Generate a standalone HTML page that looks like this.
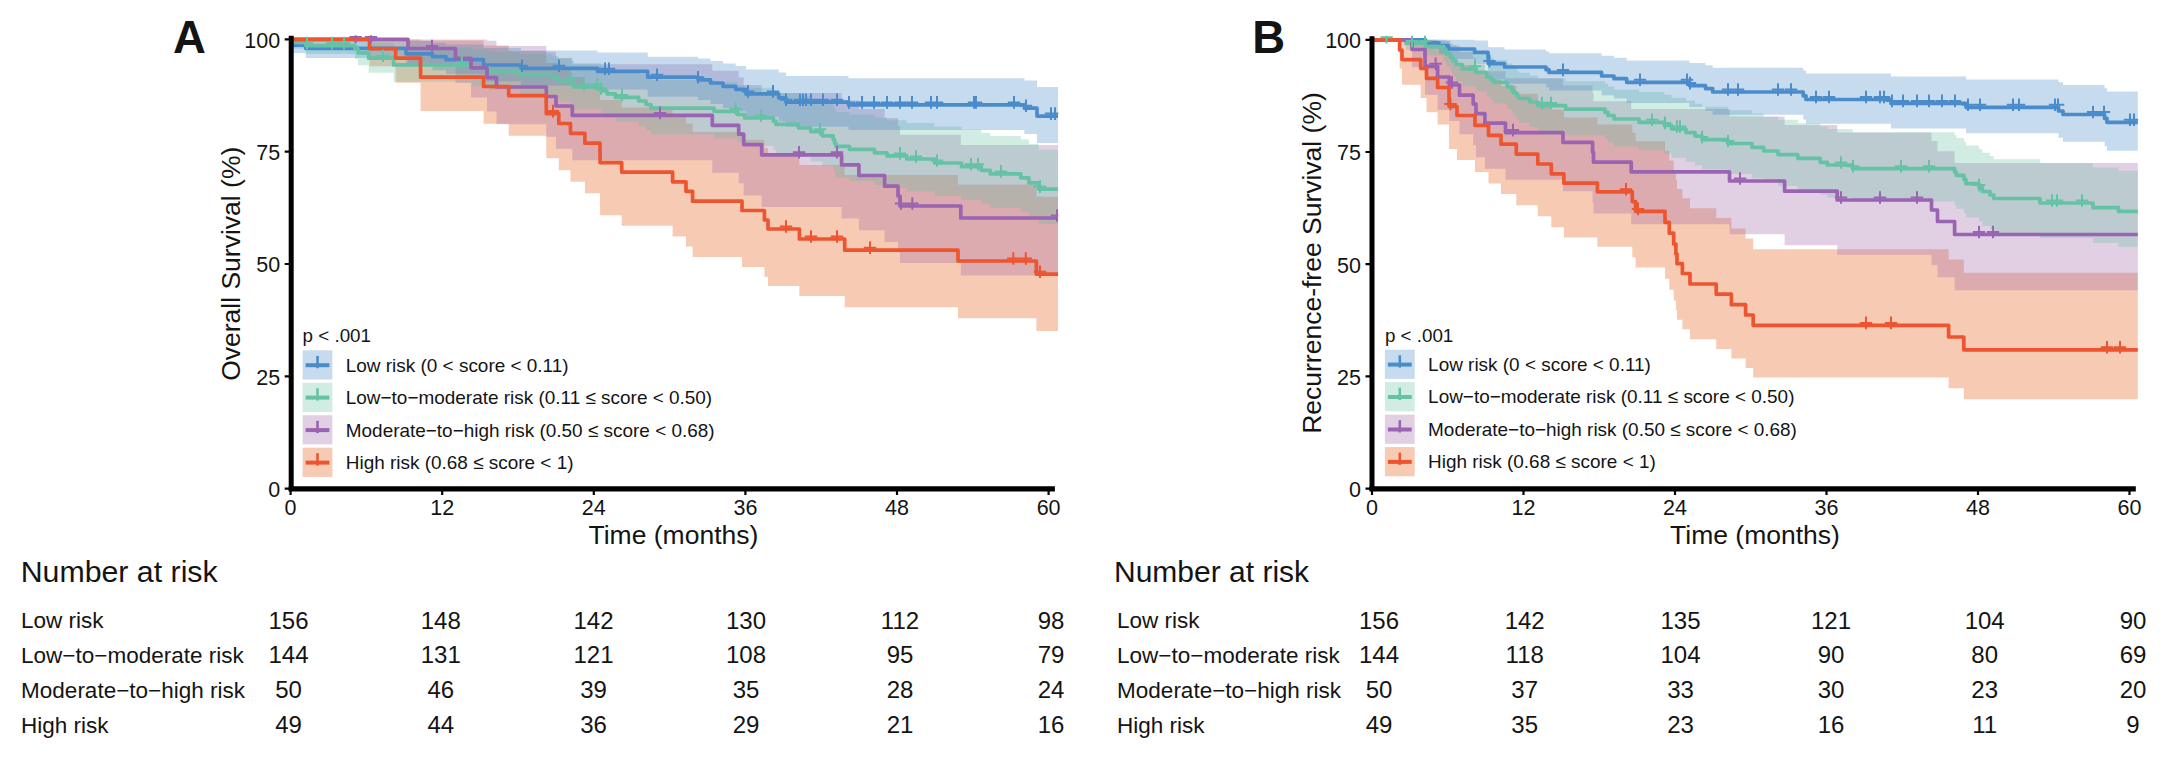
<!DOCTYPE html>
<html><head><meta charset="utf-8"><title>Survival curves</title>
<style>
html,body{margin:0;padding:0;background:#fff;}
body{width:2178px;height:780px;overflow:hidden;font-family:"Liberation Sans", sans-serif;}
svg{display:block;}
svg text{font-family:"Liberation Sans", sans-serif;fill:#141414;}
</style></head><body>
<svg width="2178" height="780" viewBox="0 0 2178 780">
<rect width="2178" height="780" fill="#fff"/>
<g id="panelA">
<clipPath id="clipA"><rect x="287.6" y="35.3" width="770.7" height="470"/></clipPath>
<g clip-path="url(#clipA)">
<path d="M290.6,39.4L369.5,39.4L369.5,39.4L395.6,39.4L395.6,39.4L420.5,39.4L420.5,39.4L420.6,39.4L420.6,40.4L483.6,40.4L483.6,45.5L508.7,45.5L508.7,51.0L546.2,51.0L546.2,56.7L546.3,56.7L546.3,62.9L558.8,62.9L558.8,69.9L570.5,69.9L570.5,77.1L584.9,77.1L584.9,84.6L600.0,84.6L600.0,92.1L600.1,92.1L600.1,99.9L621.7,99.9L621.7,107.6L672.6,107.6L672.6,115.4L686.0,115.4L686.0,123.4L692.6,123.4L692.6,131.9L742.0,131.9L742.0,139.7L764.4,139.7L764.4,148.0L768.0,148.0L768.0,156.1L799.4,156.1L799.4,165.0L844.7,165.0L844.7,175.1L958.0,175.1L958.0,184.6L1036.4,184.6L1036.4,196.7L1058.0,196.7L1058.0,331.1L1036.4,331.1L1036.4,318.2L958.0,318.2L958.0,307.3L844.7,307.3L844.7,296.1L799.4,296.1L799.4,285.9L768.0,285.9L768.0,276.8L764.4,276.8L764.4,266.9L742.0,266.9L742.0,257.1L692.6,257.1L692.6,246.6L686.0,246.6L686.0,236.4L672.6,236.4L672.6,225.7L621.7,225.7L621.7,215.2L600.1,215.2L600.1,204.4L600.0,204.4L600.0,193.3L584.9,193.3L584.9,181.8L570.5,181.8L570.5,170.2L558.8,170.2L558.8,158.3L546.3,158.3L546.3,147.2L546.2,147.2L546.2,135.7L508.7,135.7L508.7,123.7L483.6,123.7L483.6,111.0L420.6,111.0L420.6,97.3L420.5,97.3L420.5,82.7L395.6,82.7L395.6,66.2L369.5,66.2L369.5,39.4L290.6,39.4Z" fill="#e44e05" fill-opacity="0.3" stroke="none"/>
<path d="M290.6,39.4L408.0,39.4L408.0,39.4L455.5,39.4L455.5,39.4L471.0,39.4L471.0,39.4L487.0,39.4L487.0,40.7L496.5,40.7L496.5,46.0L546.3,46.0L546.3,51.7L556.0,51.7L556.0,57.9L572.3,57.9L572.3,64.3L712.3,64.3L712.3,70.7L738.7,70.7L738.7,77.2L743.7,77.2L743.7,85.1L761.7,85.1L761.7,93.0L841.6,93.0L841.6,100.6L858.9,100.6L858.9,109.1L884.6,109.1L884.6,117.9L898.0,117.9L898.0,126.2L900.0,126.2L900.0,134.8L960.8,134.8L960.8,145.0L1058.0,145.0L1058.0,275.5L960.8,275.5L960.8,262.9L900.0,262.9L900.0,252.4L898.0,252.4L898.0,241.9L884.6,241.9L884.6,230.3L858.9,230.3L858.9,218.6L841.6,218.6L841.6,207.0L761.7,207.0L761.7,195.4L743.7,195.4L743.7,183.3L738.7,183.3L738.7,172.8L712.3,172.8L712.3,160.3L572.3,160.3L572.3,148.7L556.0,148.7L556.0,136.7L546.3,136.7L546.3,124.2L496.5,124.2L496.5,111.5L487.0,111.5L487.0,97.5L471.0,97.5L471.0,82.9L455.5,82.9L455.5,65.9L408.0,65.9L408.0,39.4L290.6,39.4Z" fill="#9a62a6" fill-opacity="0.3" stroke="none"/>
<path d="M290.6,39.4L291.0,39.4L291.0,39.4L306.0,39.4L306.0,39.4L355.0,39.4L355.0,39.4L358.0,39.4L358.0,40.1L368.6,40.1L368.6,43.1L393.6,43.1L393.6,47.4L472.0,47.4L472.0,49.5L489.2,49.5L489.2,51.7L520.0,51.7L520.0,54.0L552.7,54.0L552.7,56.1L558.5,56.1L558.5,58.6L571.4,58.6L571.4,60.9L574.0,60.9L574.0,63.2L601.0,63.2L601.0,66.2L607.0,66.2L607.0,68.5L615.4,68.5L615.4,71.2L638.7,71.2L638.7,74.1L646.0,74.1L646.0,76.9L651.0,76.9L651.0,79.9L714.0,79.9L714.0,82.3L737.5,82.3L737.5,84.9L744.6,84.9L744.6,87.8L773.4,87.8L773.4,90.4L776.0,90.4L776.0,93.1L798.5,93.1L798.5,96.1L810.8,96.1L810.8,99.3L822.4,99.3L822.4,102.8L833.2,102.8L833.2,105.9L834.6,105.9L834.6,109.3L836.0,109.3L836.0,112.0L849.4,112.0L849.4,114.5L874.5,114.5L874.5,117.6L887.0,117.6L887.0,120.2L906.8,120.2L906.8,122.9L934.6,122.9L934.6,126.4L961.6,126.4L961.6,129.6L981.3,129.6L981.3,132.8L990.3,132.8L990.3,136.0L1020.8,136.0L1020.8,139.5L1028.9,139.5L1028.9,144.0L1038.7,144.0L1038.7,149.8L1058.0,149.8L1058.0,223.9L1038.7,223.9L1038.7,217.2L1028.9,217.2L1028.9,211.9L1020.8,211.9L1020.8,207.7L990.3,207.7L990.3,203.8L981.3,203.8L981.3,199.9L961.6,199.9L961.6,195.9L934.6,195.9L934.6,191.5L906.8,191.5L906.8,188.1L887.0,188.1L887.0,184.9L874.5,184.9L874.5,180.9L849.4,180.9L849.4,177.7L836.0,177.7L836.0,174.3L834.6,174.3L834.6,170.1L833.2,170.1L833.2,166.0L822.4,166.0L822.4,161.4L810.8,161.4L810.8,157.3L798.5,157.3L798.5,153.2L776.0,153.2L776.0,149.6L773.4,149.6L773.4,145.9L744.6,145.9L744.6,141.9L737.5,141.9L737.5,138.2L714.0,138.2L714.0,134.5L651.0,134.5L651.0,130.3L646.0,130.3L646.0,126.2L638.7,126.2L638.7,121.9L615.4,121.9L615.4,117.8L607.0,117.8L607.0,114.3L601.0,114.3L601.0,109.5L574.0,109.5L574.0,105.9L571.4,105.9L571.4,102.2L558.5,102.2L558.5,98.0L552.7,98.0L552.7,94.4L520.0,94.4L520.0,90.1L489.2,90.1L489.2,86.1L472.0,86.1L472.0,81.7L393.6,81.7L393.6,72.7L368.6,72.7L368.6,65.3L358.0,65.3L358.0,59.1L355.0,59.1L355.0,54.1L306.0,54.1L306.0,48.5L291.0,48.5L291.0,39.4L290.6,39.4Z" fill="#62c0a2" fill-opacity="0.3" stroke="none"/>
<path d="M290.6,39.4L291.0,39.4L291.0,39.4L305.6,39.4L305.6,39.4L406.0,39.4L406.0,41.1L432.5,41.1L432.5,42.8L446.0,42.8L446.0,44.6L483.5,44.6L483.5,48.1L521.0,48.1L521.0,50.4L597.4,50.4L597.4,52.4L647.7,52.4L647.7,56.7L698.0,56.7L698.0,58.5L710.5,58.5L710.5,60.9L723.0,60.9L723.0,63.5L735.7,63.5L735.7,65.9L746.0,65.9L746.0,69.4L778.7,69.4L778.7,72.5L786.0,72.5L786.0,76.1L848.5,76.1L848.5,78.2L1024.4,78.2L1024.4,80.6L1037.0,80.6L1037.0,87.1L1058.0,87.1L1058.0,143.0L1037.0,143.0L1037.0,134.0L1024.4,134.0L1024.4,129.9L848.5,129.9L848.5,126.7L786.0,126.7L786.0,121.6L778.7,121.6L778.7,116.9L746.0,116.9L746.0,111.6L735.7,111.6L735.7,107.9L723.0,107.9L723.0,103.9L710.5,103.9L710.5,100.0L698.0,100.0L698.0,96.8L647.7,96.8L647.7,89.4L597.4,89.4L597.4,85.5L521.0,85.5L521.0,81.2L483.5,81.2L483.5,74.1L446.0,74.1L446.0,70.2L432.5,70.2L432.5,66.1L406.0,66.1L406.0,58.0L305.6,58.0L305.6,53.1L291.0,53.1L291.0,39.4L290.6,39.4Z" fill="#4688c8" fill-opacity="0.3" stroke="none"/>
<path d="M290.6,39.4H291.0V45.2H305.6V48.3H406.0V53.8H432.5V56.7H446.0V59.6H483.5V65.0H521.0V68.3H597.4V71.3H647.7V77.2H698.0V79.8H710.5V83.0H723.0V86.3H735.7V89.4H746.0V93.9H778.7V97.8H786.0V102.2H848.5V104.9H1024.4V108.2H1037.0V116.1H1058.0" fill="none" stroke="#4a8ccb" stroke-width="3.7" stroke-linejoin="round"/>
<path d="M290.6,39.4H291.0V42.5H306.0V45.6H355.0V48.7H358.0V52.9H368.6V58.2H393.6V64.9H472.0V68.2H489.2V71.3H520.0V74.7H552.7V77.6H558.5V81.0H571.4V84.0H574.0V87.0H601.0V91.0H607.0V93.9H615.4V97.4H638.7V101.0H646.0V104.5H651.0V108.2H714.0V111.3H737.5V114.5H744.6V118.0H773.4V121.2H776.0V124.4H798.5V128.0H810.8V131.7H822.4V135.8H833.2V139.5H834.6V143.3H836.0V146.4H849.4V149.3H874.5V152.9H887.0V155.9H906.8V159.0H934.6V163.0H961.6V166.7H981.3V170.3H990.3V173.9H1020.8V177.8H1028.9V182.8H1038.7V189.1H1058.0" fill="none" stroke="#66c2a5" stroke-width="3.7" stroke-linejoin="round"/>
<path d="M290.6,39.4H408.0V48.5H455.5V58.3H471.0V67.8H487.0V77.6H496.5V87.0H546.3V96.5H556.0V106.0H572.3V115.4H712.3V125.3H738.7V134.2H743.7V144.6H761.7V154.8H841.6V164.9H858.9V175.5H884.6V186.2H898.0V196.0H900.0V206.0H960.8V218.0H1058.0" fill="none" stroke="#9a64b2" stroke-width="3.7" stroke-linejoin="round"/>
<path d="M290.6,39.4H369.5V48.6H395.6V58.1H420.5V67.6H420.6V77.2H483.6V86.5H508.7V95.6H546.2V104.6H546.3V113.6H558.8V123.5H570.5V133.3H584.9V143.2H600.0V152.9H600.1V162.6H621.7V172.1H672.6V181.8H686.0V191.3H692.6V201.2H742.0V210.5H764.4V220.0H768.0V229.0H799.4V239.0H844.7V250.2H958.0V261.0H1036.4V274.2H1058.0" fill="none" stroke="#ec5530" stroke-width="3.7" stroke-linejoin="round"/>
<path d="M522.0,59.5V72.1M515.8,65.8H528.2M559.0,59.5V72.1M552.8,65.8H565.2M605.0,62.5V75.1M598.8,68.8H611.2M609.0,62.5V75.1M602.8,68.8H615.2M657.0,68.4V81.0M650.8,74.7H663.2M698.0,71.0V83.6M691.8,77.3H704.2M748.0,85.1V97.7M741.8,91.4H754.2M773.0,85.1V97.7M766.8,91.4H779.2M786.0,93.4V106.0M779.8,99.7H792.2M800.0,93.4V106.0M793.8,99.7H806.2M803.0,93.4V106.0M796.8,99.7H809.2M806.0,93.4V106.0M799.8,99.7H812.2M811.0,93.4V106.0M804.8,99.7H817.2M823.0,93.4V106.0M816.8,99.7H829.2M837.0,93.4V106.0M830.8,99.7H843.2M849.0,96.1V108.7M842.8,102.4H855.2M862.0,96.1V108.7M855.8,102.4H868.2M874.0,96.1V108.7M867.8,102.4H880.2M887.0,96.1V108.7M880.8,102.4H893.2M900.0,96.1V108.7M893.8,102.4H906.2M912.0,96.1V108.7M905.8,102.4H918.2M931.0,96.1V108.7M924.8,102.4H937.2M937.0,96.1V108.7M930.8,102.4H943.2M974.0,96.1V108.7M967.8,102.4H980.2M976.0,96.1V108.7M969.8,102.4H982.2M1014.0,96.1V108.7M1007.8,102.4H1020.2M1026.0,99.4V112.0M1019.8,105.7H1032.2M1051.0,107.3V119.9M1044.8,113.6H1057.2M1055.0,107.3V119.9M1048.8,113.6H1061.2" stroke="#4a8ccb" stroke-width="2.0" fill="none"/>
<path d="M307.0,36.8V49.4M300.8,43.1H313.2M332.0,36.8V49.4M325.8,43.1H338.2M344.0,36.8V49.4M337.8,43.1H350.2M383.0,49.4V62.0M376.8,55.7H389.2M461.8,56.1V68.7M455.6,62.4H468.0M571.0,72.2V84.8M564.8,78.5H577.2M584.0,78.2V90.8M577.8,84.5H590.2M597.0,78.2V90.8M590.8,84.5H603.2M601.0,82.2V94.8M594.8,88.5H607.2M622.0,88.6V101.2M615.8,94.9H628.2M735.7,102.5V115.1M729.5,108.8H741.9M761.0,109.2V121.8M754.8,115.5H767.2M820.0,122.9V135.5M813.8,129.2H826.2M900.0,147.1V159.7M893.8,153.4H906.2M916.0,150.2V162.8M909.8,156.5H922.2M937.0,154.2V166.8M930.8,160.5H943.2M971.0,157.9V170.5M964.8,164.2H977.2M978.0,157.9V170.5M971.8,164.2H984.2M1001.0,165.1V177.7M994.8,171.4H1007.2M1040.0,180.3V192.9M1033.8,186.6H1046.2" stroke="#66c2a5" stroke-width="2.0" fill="none"/>
<path d="M355.6,30.6V43.2M349.4,36.9H361.8M371.0,30.6V43.2M364.8,36.9H377.2M432.0,39.7V52.3M425.8,46.0H438.2M660.0,106.6V119.2M653.8,112.9H666.2M799.0,146.0V158.6M792.8,152.3H805.2M837.0,146.0V158.6M830.8,152.3H843.2M901.0,197.2V209.8M894.8,203.5H907.2M912.3,197.2V209.8M906.1,203.5H918.5M1057.0,209.2V221.8M1050.8,215.5H1063.2" stroke="#9a64b2" stroke-width="2.0" fill="none"/>
<path d="M553.0,104.8V117.4M546.8,111.1H559.2M786.0,220.2V232.8M779.8,226.5H792.2M811.0,230.2V242.8M804.8,236.5H817.2M837.0,230.2V242.8M830.8,236.5H843.2M870.0,241.4V254.0M863.8,247.7H876.2M1013.3,252.2V264.8M1007.1,258.5H1019.5M1025.8,252.2V264.8M1019.6,258.5H1032.0M1040.0,265.4V278.0M1033.8,271.7H1046.2" stroke="#ec5530" stroke-width="2.0" fill="none"/>
</g>
<path d="M291.2,35.8V491.1" stroke="#000" stroke-width="5" fill="none"/>
<path d="M288.7,488.9H1054.9" stroke="#000" stroke-width="5.2" fill="none"/>
<path d="M290.6,490.6V495.1M442.2,490.6V495.1M593.8,490.6V495.1M745.4,490.6V495.1M897.0,490.6V495.1M1048.6,490.6V495.1M284.7,39.4H289.2M284.7,151.7H289.2M284.7,264.0H289.2M284.7,376.3H289.2M284.7,488.6H289.2" stroke="#000" stroke-width="2.2" fill="none"/>
<text x="290.6" y="515.3" font-size="21.5" text-anchor="middle" font-weight="normal" >0</text>
<text x="442.2" y="515.3" font-size="21.5" text-anchor="middle" font-weight="normal" >12</text>
<text x="593.8" y="515.3" font-size="21.5" text-anchor="middle" font-weight="normal" >24</text>
<text x="745.4" y="515.3" font-size="21.5" text-anchor="middle" font-weight="normal" >36</text>
<text x="897.0" y="515.3" font-size="21.5" text-anchor="middle" font-weight="normal" >48</text>
<text x="1048.6" y="515.3" font-size="21.5" text-anchor="middle" font-weight="normal" >60</text>
<text x="280.2" y="47.7" font-size="21.5" text-anchor="end" font-weight="normal" >100</text>
<text x="280.2" y="160.0" font-size="21.5" text-anchor="end" font-weight="normal" >75</text>
<text x="280.2" y="272.3" font-size="21.5" text-anchor="end" font-weight="normal" >50</text>
<text x="280.2" y="384.6" font-size="21.5" text-anchor="end" font-weight="normal" >25</text>
<text x="280.2" y="496.9" font-size="21.5" text-anchor="end" font-weight="normal" >0</text>
<text x="673.4" y="543.6" font-size="26.5" text-anchor="middle" font-weight="normal" >Time (months)</text>
<text transform="translate(240.4,263.8) rotate(-90)" font-size="26.5" text-anchor="middle">Overall Survival (%)</text>
<text x="173.0" y="53.2" font-size="45.5" text-anchor="start" font-weight="bold" >A</text>
<text x="302.6" y="342.2" font-size="18.8" text-anchor="start" font-weight="normal" >p &lt; .001</text>
<rect x="302.6" y="350.3" width="29.8" height="29.2" fill="#4688c8" fill-opacity="0.3"/>
<path d="M305.6,365.2H329.4" stroke="#4a8ccb" stroke-width="4.0"/>
<path d="M317.5,355.9V368.2" stroke="#4a8ccb" stroke-width="2.6"/>
<text x="345.8" y="371.6" font-size="18.95" text-anchor="start" font-weight="normal" >Low risk (0 &lt; score &lt; 0.11)</text>
<rect x="302.6" y="382.8" width="29.8" height="29.2" fill="#62c0a2" fill-opacity="0.3"/>
<path d="M305.6,397.6H329.4" stroke="#66c2a5" stroke-width="4.0"/>
<path d="M317.5,388.3V400.6" stroke="#66c2a5" stroke-width="2.6"/>
<text x="345.8" y="404.0" font-size="18.95" text-anchor="start" font-weight="normal" >Low−to−moderate risk (0.11 ≤ score &lt; 0.50)</text>
<rect x="302.6" y="415.2" width="29.8" height="29.2" fill="#9a62a6" fill-opacity="0.3"/>
<path d="M305.6,430.1H329.4" stroke="#9a64b2" stroke-width="4.0"/>
<path d="M317.5,420.8V433.1" stroke="#9a64b2" stroke-width="2.6"/>
<text x="345.8" y="436.5" font-size="18.95" text-anchor="start" font-weight="normal" >Moderate−to−high risk (0.50 ≤ score &lt; 0.68)</text>
<rect x="302.6" y="447.7" width="29.8" height="29.2" fill="#e44e05" fill-opacity="0.3"/>
<path d="M305.6,462.6H329.4" stroke="#ec5530" stroke-width="4.0"/>
<path d="M317.5,453.2V465.6" stroke="#ec5530" stroke-width="2.6"/>
<text x="345.8" y="468.9" font-size="18.95" text-anchor="start" font-weight="normal" >High risk (0.68 ≤ score &lt; 1)</text>
</g>
<g id="panelB">
<clipPath id="clipB"><rect x="1369.0" y="35.7" width="769.1" height="470"/></clipPath>
<g clip-path="url(#clipB)">
<path d="M1372.0,39.8L1399.6,39.8L1399.6,39.8L1402.0,39.8L1402.0,39.8L1420.7,39.8L1420.7,39.8L1426.5,39.8L1426.5,41.4L1437.6,41.4L1437.6,46.6L1449.0,46.6L1449.0,52.4L1449.1,52.4L1449.1,58.7L1457.0,58.7L1457.0,64.9L1475.0,64.9L1475.0,72.0L1488.5,72.0L1488.5,79.3L1501.0,79.3L1501.0,86.1L1516.3,86.1L1516.3,93.8L1537.8,93.8L1537.8,101.6L1551.3,101.6L1551.3,109.7L1563.9,109.7L1563.9,117.4L1597.4,117.4L1597.4,124.5L1632.3,124.5L1632.3,132.7L1635.6,132.7L1635.6,141.2L1665.0,141.2L1665.0,150.7L1669.3,150.7L1669.3,160.6L1673.7,160.6L1673.7,170.5L1675.9,170.5L1675.9,179.7L1677.0,179.7L1677.0,188.9L1682.4,188.9L1682.4,198.2L1690.0,198.2L1690.0,208.3L1716.2,208.3L1716.2,218.1L1731.4,218.1L1731.4,228.4L1745.6,228.4L1745.6,238.6L1753.2,238.6L1753.2,249.2L1948.6,249.2L1948.6,259.5L1963.8,259.5L1963.8,272.8L2137.8,272.8L2137.8,399.3L1963.8,399.3L1963.8,388.3L1948.6,388.3L1948.6,377.4L1753.2,377.4L1753.2,368.0L1745.6,368.0L1745.6,358.6L1731.4,358.6L1731.4,348.9L1716.2,348.9L1716.2,339.3L1690.0,339.3L1690.0,329.3L1682.4,329.3L1682.4,319.8L1677.0,319.8L1677.0,310.3L1675.9,310.3L1675.9,300.5L1673.7,300.5L1673.7,289.7L1669.3,289.7L1669.3,278.7L1665.0,278.7L1665.0,267.4L1635.6,267.4L1635.6,257.2L1632.3,257.2L1632.3,246.7L1597.4,246.7L1597.4,237.4L1563.9,237.4L1563.9,227.3L1551.3,227.3L1551.3,216.3L1537.8,216.3L1537.8,205.2L1516.3,205.2L1516.3,193.9L1501.0,193.9L1501.0,183.6L1488.5,183.6L1488.5,172.0L1475.0,172.0L1475.0,160.0L1457.0,160.0L1457.0,149.0L1449.1,149.0L1449.1,137.0L1449.0,137.0L1449.0,124.6L1437.6,124.6L1437.6,112.3L1426.5,112.3L1426.5,98.0L1420.7,98.0L1420.7,84.7L1402.0,84.7L1402.0,68.4L1399.6,68.4L1399.6,39.8L1372.0,39.8Z" fill="#e44e05" fill-opacity="0.3" stroke="none"/>
<path d="M1372.0,39.8L1412.0,39.8L1412.0,39.8L1425.0,39.8L1425.0,39.8L1425.1,39.8L1425.1,39.8L1437.6,39.8L1437.6,41.1L1449.3,41.1L1449.3,45.6L1459.5,45.6L1459.5,51.9L1473.2,51.9L1473.2,57.7L1476.0,57.7L1476.0,64.4L1484.9,64.4L1484.9,71.2L1505.5,71.2L1505.5,78.2L1563.0,78.2L1563.0,85.6L1592.6,85.6L1592.6,93.3L1593.5,93.3L1593.5,101.2L1631.2,101.2L1631.2,109.0L1729.5,109.0L1729.5,116.5L1784.6,116.5L1784.6,125.0L1837.2,125.0L1837.2,132.5L1931.5,132.5L1931.5,141.0L1937.5,141.0L1937.5,151.2L1954.6,151.2L1954.6,162.9L2137.8,162.9L2137.8,290.3L1954.6,290.3L1954.6,277.2L1937.5,277.2L1937.5,265.3L1931.5,265.3L1931.5,254.7L1837.2,254.7L1837.2,245.3L1784.6,245.3L1784.6,234.3L1729.5,234.3L1729.5,224.2L1631.2,224.2L1631.2,213.6L1593.5,213.6L1593.5,202.5L1592.6,202.5L1592.6,191.2L1563.0,191.2L1563.0,179.8L1505.5,179.8L1505.5,168.7L1484.9,168.7L1484.9,157.3L1476.0,157.3L1476.0,145.3L1473.2,145.3L1473.2,134.2L1459.5,134.2L1459.5,120.9L1449.3,120.9L1449.3,110.0L1437.6,110.0L1437.6,94.7L1425.1,94.7L1425.1,81.9L1425.0,81.9L1425.0,67.2L1412.0,67.2L1412.0,39.8L1372.0,39.8Z" fill="#9a62a6" fill-opacity="0.3" stroke="none"/>
<path d="M1372.0,39.8L1406.0,39.8L1406.0,39.8L1425.5,39.8L1425.5,39.8L1443.8,39.8L1443.8,39.8L1446.0,39.8L1446.0,40.8L1450.8,40.8L1450.8,42.9L1453.0,42.9L1453.0,44.9L1456.0,44.9L1456.0,47.3L1462.4,47.3L1462.4,50.2L1476.0,50.2L1476.0,52.8L1486.7,52.8L1486.7,56.0L1491.0,56.0L1491.0,58.0L1493.8,58.0L1493.8,60.0L1507.3,60.0L1507.3,63.4L1512.0,63.4L1512.0,65.9L1513.6,65.9L1513.6,68.3L1517.0,68.3L1517.0,70.7L1519.0,70.7L1519.0,72.7L1529.8,72.7L1529.8,75.5L1537.8,75.5L1537.8,78.4L1565.7,78.4L1565.7,81.3L1605.0,81.3L1605.0,83.8L1608.0,83.8L1608.0,86.4L1614.0,86.4L1614.0,89.4L1639.0,89.4L1639.0,92.1L1664.4,92.1L1664.4,94.7L1671.6,94.7L1671.6,97.7L1686.0,97.7L1686.0,100.8L1695.0,100.8L1695.0,103.7L1702.0,103.7L1702.0,106.8L1727.8,106.8L1727.8,110.2L1752.0,110.2L1752.0,113.5L1763.7,113.5L1763.7,116.7L1778.0,116.7L1778.0,119.8L1797.8,119.8L1797.8,123.2L1820.3,123.2L1820.3,126.6L1827.4,126.6L1827.4,129.0L1852.6,129.0L1852.6,132.2L1954.6,132.2L1954.6,134.9L1956.5,134.9L1956.5,138.0L1964.0,138.0L1964.0,141.7L1966.0,141.7L1966.0,145.6L1979.0,145.6L1979.0,149.0L1982.3,149.0L1982.3,152.7L1990.0,152.7L1990.0,155.9L1993.8,155.9L1993.8,159.2L2040.0,159.2L2040.0,163.2L2093.0,163.2L2093.0,167.4L2118.5,167.4L2118.5,170.8L2137.8,170.8L2137.8,246.8L2118.5,246.8L2118.5,242.9L2093.0,242.9L2093.0,237.9L2040.0,237.9L2040.0,233.1L1993.8,233.1L1993.8,229.5L1990.0,229.5L1990.0,225.8L1982.3,225.8L1982.3,221.6L1979.0,221.6L1979.0,217.6L1966.0,217.6L1966.0,213.2L1964.0,213.2L1964.0,208.8L1956.5,208.8L1956.5,205.2L1954.6,205.2L1954.6,201.4L1852.6,201.4L1852.6,197.4L1827.4,197.4L1827.4,194.5L1820.3,194.5L1820.3,190.2L1797.8,190.2L1797.8,186.1L1778.0,186.1L1778.0,182.2L1763.7,182.2L1763.7,178.2L1752.0,178.2L1752.0,173.9L1727.8,173.9L1727.8,169.6L1702.0,169.6L1702.0,165.6L1695.0,165.6L1695.0,161.8L1686.0,161.8L1686.0,157.8L1671.6,157.8L1671.6,153.7L1664.4,153.7L1664.4,150.2L1639.0,150.2L1639.0,146.4L1614.0,146.4L1614.0,142.5L1608.0,142.5L1608.0,138.9L1605.0,138.9L1605.0,135.2L1565.7,135.2L1565.7,131.0L1537.8,131.0L1537.8,126.8L1529.8,126.8L1529.8,122.7L1519.0,122.7L1519.0,119.8L1517.0,119.8L1517.0,116.3L1513.6,116.3L1513.6,112.7L1512.0,112.7L1512.0,108.9L1507.3,108.9L1507.3,103.4L1493.8,103.4L1493.8,100.1L1491.0,100.1L1491.0,96.8L1486.7,96.8L1486.7,91.2L1476.0,91.2L1476.0,86.6L1462.4,86.6L1462.4,81.0L1456.0,81.0L1456.0,76.1L1453.0,76.1L1453.0,71.6L1450.8,71.6L1450.8,66.4L1446.0,66.4L1446.0,60.9L1443.8,60.9L1443.8,55.5L1425.5,55.5L1425.5,50.1L1406.0,50.1L1406.0,39.8L1372.0,39.8Z" fill="#62c0a2" fill-opacity="0.3" stroke="none"/>
<path d="M1372.0,39.8L1425.5,39.8L1425.5,39.8L1439.0,39.8L1439.0,39.8L1448.6,39.8L1448.6,39.8L1474.6,39.8L1474.6,40.5L1488.0,40.5L1488.0,42.1L1488.1,42.1L1488.1,43.8L1488.2,43.8L1488.2,45.6L1488.3,45.6L1488.3,47.3L1504.5,47.3L1504.5,49.6L1546.0,49.6L1546.0,51.4L1549.0,51.4L1549.0,53.3L1601.6,53.3L1601.6,55.8L1614.0,55.8L1614.0,57.8L1626.7,57.8L1626.7,60.5L1689.5,60.5L1689.5,62.9L1705.5,62.9L1705.5,65.2L1712.7,65.2L1712.7,67.8L1803.2,67.8L1803.2,70.6L1806.0,70.6L1806.0,73.6L1891.0,73.6L1891.0,76.5L1966.0,76.5L1966.0,79.4L2058.5,79.4L2058.5,82.2L2063.0,82.2L2063.0,85.1L2104.6,85.1L2104.6,88.2L2107.0,88.2L2107.0,91.5L2137.8,91.5L2137.8,150.7L2107.0,150.7L2107.0,146.3L2104.6,146.3L2104.6,141.8L2063.0,141.8L2063.0,137.8L2058.5,137.8L2058.5,133.3L1966.0,133.3L1966.0,128.6L1891.0,128.6L1891.0,123.8L1806.0,123.8L1806.0,119.5L1803.2,119.5L1803.2,114.8L1712.7,114.8L1712.7,110.7L1705.5,110.7L1705.5,107.1L1689.5,107.1L1689.5,103.0L1626.7,103.0L1626.7,98.6L1614.0,98.6L1614.0,95.2L1601.6,95.2L1601.6,90.6L1549.0,90.6L1549.0,87.2L1546.0,87.2L1546.0,83.7L1504.5,83.7L1504.5,79.3L1488.3,79.3L1488.3,75.9L1488.2,75.9L1488.2,72.1L1488.1,72.1L1488.1,68.1L1488.0,68.1L1488.0,64.0L1474.6,64.0L1474.6,59.0L1448.6,59.0L1448.6,53.7L1439.0,53.7L1439.0,48.5L1425.5,48.5L1425.5,39.8L1372.0,39.8Z" fill="#4688c8" fill-opacity="0.3" stroke="none"/>
<path d="M1372.0,39.8H1425.5V42.8H1439.0V45.7H1448.6V49.0H1474.6V52.4H1488.0V55.3H1488.1V58.2H1488.2V61.0H1488.3V63.6H1504.5V67.0H1546.0V69.7H1549.0V72.4H1601.6V76.0H1614.0V78.7H1626.7V82.3H1689.5V85.6H1705.5V88.6H1712.7V92.0H1803.2V95.8H1806.0V99.5H1891.0V103.4H1966.0V107.3H2058.5V111.0H2063.0V114.5H2104.6V118.4H2107.0V122.3H2137.8" fill="none" stroke="#4a8ccb" stroke-width="3.7" stroke-linejoin="round"/>
<path d="M1372.0,39.8H1406.0V43.5H1425.5V46.6H1443.8V50.0H1446.0V53.8H1450.8V57.5H1453.0V60.8H1456.0V64.5H1462.4V68.8H1476.0V72.4H1486.7V76.9H1491.0V79.6H1493.8V82.3H1507.3V86.8H1512.0V90.0H1513.6V93.0H1517.0V96.0H1519.0V98.5H1529.8V102.0H1537.8V105.6H1565.7V109.2H1605.0V112.4H1608.0V115.5H1614.0V119.0H1639.0V122.3H1664.4V125.4H1671.6V129.0H1686.0V132.6H1695.0V136.0H1702.0V139.6H1727.8V143.5H1752.0V147.4H1763.7V151.0H1778.0V154.6H1797.8V158.4H1820.3V162.3H1827.4V165.0H1852.6V168.7H1954.6V172.0H1956.5V175.4H1964.0V179.5H1966.0V183.7H1979.0V187.5H1982.3V191.5H1990.0V195.0H1993.8V198.5H2040.0V203.0H2093.0V207.7H2118.5V211.4H2137.8" fill="none" stroke="#66c2a5" stroke-width="3.7" stroke-linejoin="round"/>
<path d="M1372.0,39.8H1412.0V49.5H1425.0V58.0H1425.1V66.3H1437.6V77.0H1449.3V85.0H1459.5V95.2H1473.2V104.0H1476.0V113.7H1484.9V123.2H1505.5V132.6H1563.0V142.4H1592.6V152.3H1593.5V162.2H1631.2V171.8H1729.5V181.0H1784.6V191.2H1837.2V200.0H1931.5V210.0H1937.5V221.5H1954.6V234.5H2137.8" fill="none" stroke="#9a64b2" stroke-width="3.7" stroke-linejoin="round"/>
<path d="M1372.0,39.8H1399.6V50.0H1402.0V59.6H1420.7V68.3H1426.5V78.4H1437.6V87.5H1449.0V97.0H1449.1V106.5H1457.0V115.5H1475.0V125.4H1488.5V135.3H1501.0V144.2H1516.3V154.1H1537.8V164.0H1551.3V173.9H1563.9V183.2H1597.4V191.8H1632.3V201.6H1635.6V211.4H1665.0V222.3H1669.3V233.2H1673.7V244.0H1675.9V253.9H1677.0V263.7H1682.4V273.5H1690.0V284.0H1716.2V294.2H1731.4V304.7H1745.6V315.0H1753.2V325.4H1948.6V337.0H1963.8V349.8H2137.8" fill="none" stroke="#ec5530" stroke-width="3.7" stroke-linejoin="round"/>
<path d="M1489.5,54.8V67.4M1483.3,61.1H1495.7M1563.0,63.6V76.2M1556.8,69.9H1569.2M1640.0,73.5V86.1M1633.8,79.8H1646.2M1687.0,73.5V86.1M1680.8,79.8H1693.2M1690.0,76.8V89.4M1683.8,83.1H1696.2M1728.0,83.2V95.8M1721.8,89.5H1734.2M1738.0,83.2V95.8M1731.8,89.5H1744.2M1778.0,83.2V95.8M1771.8,89.5H1784.2M1791.0,83.2V95.8M1784.8,89.5H1797.2M1816.0,90.7V103.3M1809.8,97.0H1822.2M1829.0,90.7V103.3M1822.8,97.0H1835.2M1866.0,90.7V103.3M1859.8,97.0H1872.2M1880.0,90.7V103.3M1873.8,97.0H1886.2M1884.0,90.7V103.3M1877.8,97.0H1890.2M1892.0,94.6V107.2M1885.8,100.9H1898.2M1903.0,94.6V107.2M1896.8,100.9H1909.2M1917.0,94.6V107.2M1910.8,100.9H1923.2M1929.0,94.6V107.2M1922.8,100.9H1935.2M1942.0,94.6V107.2M1935.8,100.9H1948.2M1955.0,94.6V107.2M1948.8,100.9H1961.2M1968.0,98.5V111.1M1961.8,104.8H1974.2M1980.0,98.5V111.1M1973.8,104.8H1986.2M2013.0,98.5V111.1M2006.8,104.8H2019.2M2019.0,98.5V111.1M2012.8,104.8H2025.2M2055.0,98.5V111.1M2048.8,104.8H2061.2M2058.0,98.5V111.1M2051.8,104.8H2064.2M2093.0,105.7V118.3M2086.8,112.0H2099.2M2104.0,105.7V118.3M2097.8,112.0H2110.2M2130.0,113.5V126.1M2123.8,119.8H2136.2M2134.0,113.5V126.1M2127.8,119.8H2140.2" stroke="#4a8ccb" stroke-width="2.0" fill="none"/>
<path d="M1386.6,31.0V43.6M1380.4,37.3H1392.8M1412.0,34.7V47.3M1405.8,41.0H1418.2M1425.0,34.7V47.3M1418.8,41.0H1431.2M1475.0,60.0V72.6M1468.8,66.3H1481.2M1542.0,96.8V109.4M1535.8,103.1H1548.2M1551.0,96.8V109.4M1544.8,103.1H1557.2M1652.0,113.5V126.1M1645.8,119.8H1658.2M1665.0,116.6V129.2M1658.8,122.9H1671.2M1677.0,120.2V132.8M1670.8,126.5H1683.2M1680.0,120.2V132.8M1673.8,126.5H1686.2M1702.0,130.8V143.4M1695.8,137.1H1708.2M1728.0,134.7V147.3M1721.8,141.0H1734.2M1841.0,156.2V168.8M1834.8,162.5H1847.2M1853.0,159.9V172.5M1846.8,166.2H1859.2M1901.0,159.9V172.5M1894.8,166.2H1907.2M1929.0,159.9V172.5M1922.8,166.2H1935.2M1979.0,178.7V191.3M1972.8,185.0H1985.2M2052.0,194.2V206.8M2045.8,200.5H2058.2M2057.0,194.2V206.8M2050.8,200.5H2063.2M2082.0,194.2V206.8M2075.8,200.5H2088.2" stroke="#66c2a5" stroke-width="2.0" fill="none"/>
<path d="M1435.6,57.5V70.1M1429.4,63.8H1441.8M1452.0,76.2V88.8M1445.8,82.5H1458.2M1513.0,123.8V136.4M1506.8,130.1H1519.2M1740.0,172.2V184.8M1733.8,178.5H1746.2M1841.0,191.2V203.8M1834.8,197.5H1847.2M1880.0,191.2V203.8M1873.8,197.5H1886.2M1917.0,191.2V203.8M1910.8,197.5H1923.2M1979.0,225.7V238.3M1972.8,232.0H1985.2M1993.0,225.7V238.3M1986.8,232.0H1999.2" stroke="#9a64b2" stroke-width="2.0" fill="none"/>
<path d="M1450.5,97.7V110.3M1444.3,104.0H1456.7M1626.0,183.0V195.6M1619.8,189.3H1632.2M1638.0,202.6V215.2M1631.8,208.9H1644.2M1866.0,316.6V329.2M1859.8,322.9H1872.2M1891.0,316.6V329.2M1884.8,322.9H1897.2M2107.0,341.0V353.6M2100.8,347.3H2113.2M2120.0,341.0V353.6M2113.8,347.3H2126.2" stroke="#ec5530" stroke-width="2.0" fill="none"/>
</g>
<path d="M1372.0,36.2V491.1" stroke="#000" stroke-width="5" fill="none"/>
<path d="M1369.5,488.9H2135.8" stroke="#000" stroke-width="5.2" fill="none"/>
<path d="M1372.0,490.6V495.1M1523.5,490.6V495.1M1675.0,490.6V495.1M1826.5,490.6V495.1M1978.0,490.6V495.1M2129.5,490.6V495.1M1365.5,39.8H1370.0M1365.5,152.0H1370.0M1365.5,264.2H1370.0M1365.5,376.4H1370.0M1365.5,488.6H1370.0" stroke="#000" stroke-width="2.2" fill="none"/>
<text x="1372.0" y="515.3" font-size="21.5" text-anchor="middle" font-weight="normal" >0</text>
<text x="1523.5" y="515.3" font-size="21.5" text-anchor="middle" font-weight="normal" >12</text>
<text x="1675.0" y="515.3" font-size="21.5" text-anchor="middle" font-weight="normal" >24</text>
<text x="1826.5" y="515.3" font-size="21.5" text-anchor="middle" font-weight="normal" >36</text>
<text x="1978.0" y="515.3" font-size="21.5" text-anchor="middle" font-weight="normal" >48</text>
<text x="2129.5" y="515.3" font-size="21.5" text-anchor="middle" font-weight="normal" >60</text>
<text x="1361.0" y="48.1" font-size="21.5" text-anchor="end" font-weight="normal" >100</text>
<text x="1361.0" y="160.3" font-size="21.5" text-anchor="end" font-weight="normal" >75</text>
<text x="1361.0" y="272.5" font-size="21.5" text-anchor="end" font-weight="normal" >50</text>
<text x="1361.0" y="384.7" font-size="21.5" text-anchor="end" font-weight="normal" >25</text>
<text x="1361.0" y="496.9" font-size="21.5" text-anchor="end" font-weight="normal" >0</text>
<text x="1755.0" y="543.6" font-size="26.5" text-anchor="middle" font-weight="normal" >Time (months)</text>
<text transform="translate(1321.3,263.0) rotate(-90)" font-size="26.5" text-anchor="middle">Recurrence-free Survival (%)</text>
<text x="1252.3" y="53.2" font-size="45.5" text-anchor="start" font-weight="bold" >B</text>
<text x="1384.9" y="342.2" font-size="18.8" text-anchor="start" font-weight="normal" >p &lt; .001</text>
<rect x="1384.9" y="349.7" width="29.8" height="29.2" fill="#4688c8" fill-opacity="0.3"/>
<path d="M1387.9,364.6H1411.7" stroke="#4a8ccb" stroke-width="4.0"/>
<path d="M1399.8,355.3V367.6" stroke="#4a8ccb" stroke-width="2.6"/>
<text x="1428.1" y="371.0" font-size="18.95" text-anchor="start" font-weight="normal" >Low risk (0 &lt; score &lt; 0.11)</text>
<rect x="1384.9" y="382.1" width="29.8" height="29.2" fill="#62c0a2" fill-opacity="0.3"/>
<path d="M1387.9,397.0H1411.7" stroke="#66c2a5" stroke-width="4.0"/>
<path d="M1399.8,387.7V400.0" stroke="#66c2a5" stroke-width="2.6"/>
<text x="1428.1" y="403.4" font-size="18.95" text-anchor="start" font-weight="normal" >Low−to−moderate risk (0.11 ≤ score &lt; 0.50)</text>
<rect x="1384.9" y="414.6" width="29.8" height="29.2" fill="#9a62a6" fill-opacity="0.3"/>
<path d="M1387.9,429.5H1411.7" stroke="#9a64b2" stroke-width="4.0"/>
<path d="M1399.8,420.2V432.5" stroke="#9a64b2" stroke-width="2.6"/>
<text x="1428.1" y="435.9" font-size="18.95" text-anchor="start" font-weight="normal" >Moderate−to−high risk (0.50 ≤ score &lt; 0.68)</text>
<rect x="1384.9" y="447.1" width="29.8" height="29.2" fill="#e44e05" fill-opacity="0.3"/>
<path d="M1387.9,461.9H1411.7" stroke="#ec5530" stroke-width="4.0"/>
<path d="M1399.8,452.6V464.9" stroke="#ec5530" stroke-width="2.6"/>
<text x="1428.1" y="468.3" font-size="18.95" text-anchor="start" font-weight="normal" >High risk (0.68 ≤ score &lt; 1)</text>
</g>
<g id="tableA">
<text x="20.7" y="581.6" font-size="30.3" text-anchor="start" font-weight="normal" >Number at risk</text>
<text x="21.1" y="627.7" font-size="22.5" text-anchor="start" font-weight="normal" >Low risk</text>
<text x="288.5" y="629.1" font-size="24" text-anchor="middle" font-weight="normal" >156</text>
<text x="440.8" y="629.1" font-size="24" text-anchor="middle" font-weight="normal" >148</text>
<text x="593.5" y="629.1" font-size="24" text-anchor="middle" font-weight="normal" >142</text>
<text x="746" y="629.1" font-size="24" text-anchor="middle" font-weight="normal" >130</text>
<text x="900" y="629.1" font-size="24" text-anchor="middle" font-weight="normal" >112</text>
<text x="1051" y="629.1" font-size="24" text-anchor="middle" font-weight="normal" >98</text>
<text x="21.1" y="663.1" font-size="22.5" text-anchor="start" font-weight="normal" >Low−to−moderate risk</text>
<text x="288.5" y="663.4" font-size="24" text-anchor="middle" font-weight="normal" >144</text>
<text x="440.8" y="663.4" font-size="24" text-anchor="middle" font-weight="normal" >131</text>
<text x="593.5" y="663.4" font-size="24" text-anchor="middle" font-weight="normal" >121</text>
<text x="746" y="663.4" font-size="24" text-anchor="middle" font-weight="normal" >108</text>
<text x="900" y="663.4" font-size="24" text-anchor="middle" font-weight="normal" >95</text>
<text x="1051" y="663.4" font-size="24" text-anchor="middle" font-weight="normal" >79</text>
<text x="21.1" y="697.8" font-size="22.5" text-anchor="start" font-weight="normal" >Moderate−to−high risk</text>
<text x="288.5" y="698.0" font-size="24" text-anchor="middle" font-weight="normal" >50</text>
<text x="440.8" y="698.0" font-size="24" text-anchor="middle" font-weight="normal" >46</text>
<text x="593.5" y="698.0" font-size="24" text-anchor="middle" font-weight="normal" >39</text>
<text x="746" y="698.0" font-size="24" text-anchor="middle" font-weight="normal" >35</text>
<text x="900" y="698.0" font-size="24" text-anchor="middle" font-weight="normal" >28</text>
<text x="1051" y="698.0" font-size="24" text-anchor="middle" font-weight="normal" >24</text>
<text x="21.1" y="732.9" font-size="22.5" text-anchor="start" font-weight="normal" >High risk</text>
<text x="288.5" y="732.6" font-size="24" text-anchor="middle" font-weight="normal" >49</text>
<text x="440.8" y="732.6" font-size="24" text-anchor="middle" font-weight="normal" >44</text>
<text x="593.5" y="732.6" font-size="24" text-anchor="middle" font-weight="normal" >36</text>
<text x="746" y="732.6" font-size="24" text-anchor="middle" font-weight="normal" >29</text>
<text x="900" y="732.6" font-size="24" text-anchor="middle" font-weight="normal" >21</text>
<text x="1051" y="732.6" font-size="24" text-anchor="middle" font-weight="normal" >16</text>
</g>
<g id="tableB">
<text x="1114.0" y="581.6" font-size="30.0" text-anchor="start" font-weight="normal" >Number at risk</text>
<text x="1117.1" y="627.7" font-size="22.5" text-anchor="start" font-weight="normal" >Low risk</text>
<text x="1379" y="629.1" font-size="24" text-anchor="middle" font-weight="normal" >156</text>
<text x="1524.7" y="629.1" font-size="24" text-anchor="middle" font-weight="normal" >142</text>
<text x="1680.5" y="629.1" font-size="24" text-anchor="middle" font-weight="normal" >135</text>
<text x="1831" y="629.1" font-size="24" text-anchor="middle" font-weight="normal" >121</text>
<text x="1984.7" y="629.1" font-size="24" text-anchor="middle" font-weight="normal" >104</text>
<text x="2133" y="629.1" font-size="24" text-anchor="middle" font-weight="normal" >90</text>
<text x="1117.1" y="663.1" font-size="22.5" text-anchor="start" font-weight="normal" >Low−to−moderate risk</text>
<text x="1379" y="663.4" font-size="24" text-anchor="middle" font-weight="normal" >144</text>
<text x="1524.7" y="663.4" font-size="24" text-anchor="middle" font-weight="normal" >118</text>
<text x="1680.5" y="663.4" font-size="24" text-anchor="middle" font-weight="normal" >104</text>
<text x="1831" y="663.4" font-size="24" text-anchor="middle" font-weight="normal" >90</text>
<text x="1984.7" y="663.4" font-size="24" text-anchor="middle" font-weight="normal" >80</text>
<text x="2133" y="663.4" font-size="24" text-anchor="middle" font-weight="normal" >69</text>
<text x="1117.1" y="697.8" font-size="22.5" text-anchor="start" font-weight="normal" >Moderate−to−high risk</text>
<text x="1379" y="698.0" font-size="24" text-anchor="middle" font-weight="normal" >50</text>
<text x="1524.7" y="698.0" font-size="24" text-anchor="middle" font-weight="normal" >37</text>
<text x="1680.5" y="698.0" font-size="24" text-anchor="middle" font-weight="normal" >33</text>
<text x="1831" y="698.0" font-size="24" text-anchor="middle" font-weight="normal" >30</text>
<text x="1984.7" y="698.0" font-size="24" text-anchor="middle" font-weight="normal" >23</text>
<text x="2133" y="698.0" font-size="24" text-anchor="middle" font-weight="normal" >20</text>
<text x="1117.1" y="732.9" font-size="22.5" text-anchor="start" font-weight="normal" >High risk</text>
<text x="1379" y="732.6" font-size="24" text-anchor="middle" font-weight="normal" >49</text>
<text x="1524.7" y="732.6" font-size="24" text-anchor="middle" font-weight="normal" >35</text>
<text x="1680.5" y="732.6" font-size="24" text-anchor="middle" font-weight="normal" >23</text>
<text x="1831" y="732.6" font-size="24" text-anchor="middle" font-weight="normal" >16</text>
<text x="1984.7" y="732.6" font-size="24" text-anchor="middle" font-weight="normal" >11</text>
<text x="2133" y="732.6" font-size="24" text-anchor="middle" font-weight="normal" >9</text>
</g>
</svg>
</body></html>
